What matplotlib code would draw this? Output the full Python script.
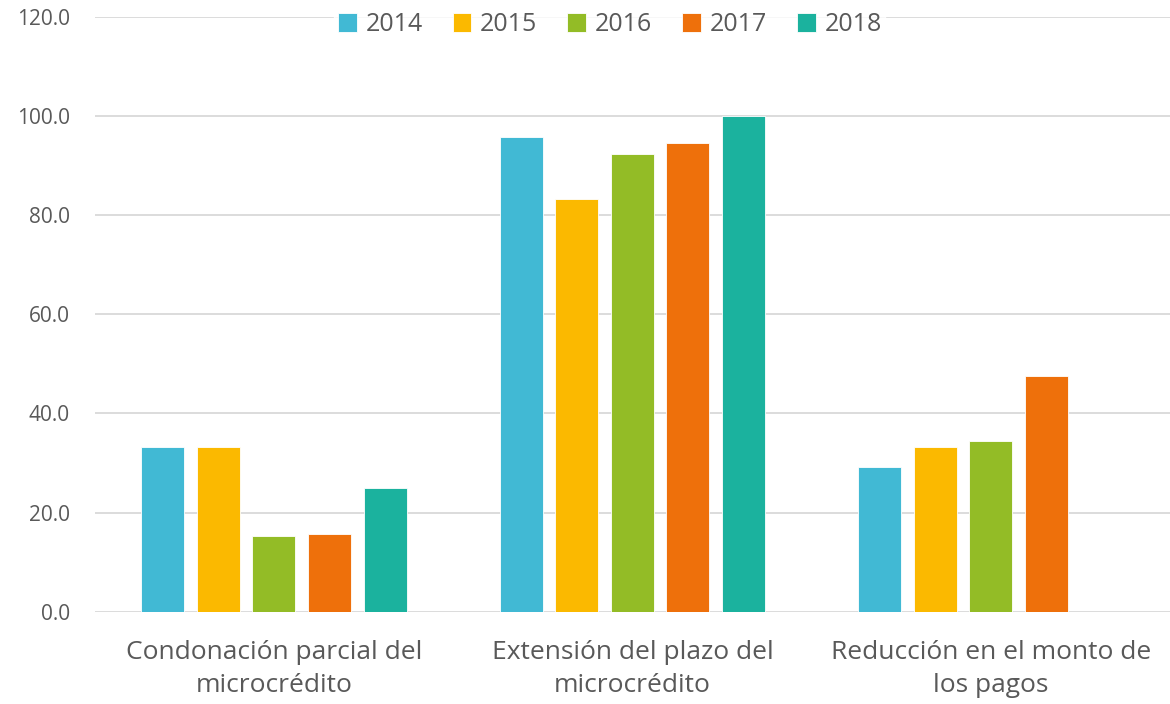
import matplotlib.pyplot as plt
import numpy as np

categories = ["Condonación parcial del\nmicrocrédito",
              "Extensión del plazo del\nmicrocrédito",
              "Reducción en el monto de\nlos pagos"]
years = ["2014", "2015", "2016", "2017", "2018"]
v2014 = [33.3, 95.8, 29.3]
v2015 = [33.3, 83.2, 33.3]
v2016 = [15.2, 92.3, 34.5]
v2017 = [15.6, 94.5, 47.5]
v2018 = [25.0, 100.0, 0.0]
series = [v2014, v2015, v2016, v2017, v2018]
colors = ["#41B9D4", "#FBB900", "#93BC26", "#EE700B", "#1BB29E"]

plt.rcParams['font.family'] = ['Open Sans', 'DejaVu Sans']

fig = plt.figure(figsize=(11.7, 7.04), dpi=100)
ax = fig.add_axes([0.081, 0.131, 0.919, 0.845])

x = np.arange(len(categories))
width = 0.12
step = 0.155
for i, (vals, c, yr) in enumerate(zip(series, colors, years)):
    ax.bar(x + (i - 2) * step, vals, width, color=c, label=yr,
           edgecolor="white", linewidth=0.6, zorder=3)

ax.set_xlim(-0.5, 2.5)
ax.set_ylim(0, 120)
ax.set_yticks(np.arange(0, 121, 20))
ax.set_yticklabels([f"{t:.1f}" for t in np.arange(0, 121, 20)])
ax.yaxis.grid(True, color="#D9D9D9", linewidth=1.3, zorder=0)
ax.set_xticks(x)
ax.set_xticklabels(categories, fontsize=19, color="#595959", linespacing=1.45)
ax.tick_params(axis="y", labelsize=15, colors="#595959", length=0, pad=18)
ax.tick_params(axis="x", length=0, pad=20)
for s in ax.spines.values():
    s.set_visible(False)

leg = ax.legend(loc="upper center", bbox_to_anchor=(0.479, 1.035), ncol=5,
                frameon=True, fontsize=18, handlelength=0.75, handleheight=0.75,
                handletextpad=0.35, columnspacing=1.2, borderpad=0.15)
leg.get_frame().set_facecolor("white")
leg.get_frame().set_edgecolor("white")
for t in leg.get_texts():
    t.set_color("#595959")

fig.savefig("out.png", dpi=100)
